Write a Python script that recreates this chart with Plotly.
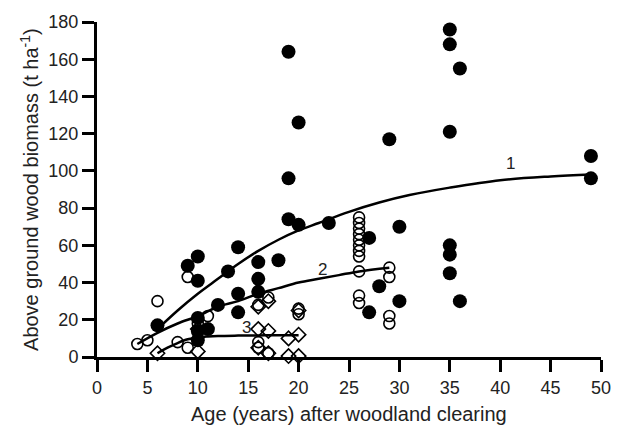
import plotly.graph_objects as go

# ---- data ----
filled_x = [6, 9, 10, 10, 10, 10, 10, 11, 12, 13, 14, 14, 14, 16, 16, 16, 18, 19, 19, 19, 20, 20,
            23, 27, 27, 28, 29, 30, 30, 35, 35, 35, 35, 35, 35, 36, 36, 49, 49]
filled_y = [17, 49, 54, 41, 21, 14, 9, 15, 28, 46, 59, 34, 24, 51, 42, 35, 52, 164, 96, 74, 126, 71,
            72, 64, 24, 38, 117, 70, 30, 176, 168, 121, 60, 55, 45, 155, 30, 108, 96]

open_x = [4, 5, 6, 8, 9, 9, 10, 11, 16, 16, 16, 17, 17, 20, 20,
          26, 26, 26, 26, 26, 26, 26, 26, 26, 26, 26, 29, 29, 29, 29]
open_y = [7, 9, 30, 8, 5, 43, 18, 22, 28, 5, 8, 32, 2, 23, 26,
          75, 72, 69, 66, 63, 60, 57, 54, 46, 33, 29, 48, 43, 22, 18]

diam_x = [6, 10, 10, 16, 16, 16, 17, 17, 17, 19, 19, 20, 20, 20]
diam_y = [2, 3, 15, 15, 27, 5, 14, 30, 2, 10, 0.5, 12, 0.5, 25]

curve1_x = [6, 8, 10, 12, 14, 16, 18, 20, 22, 25, 28, 31, 35, 40, 45, 49]
curve1_y = [15, 25, 34, 42, 50, 57, 63, 68, 72, 78, 83, 87, 91, 95, 97, 98]

curve2_x = [4, 6, 8, 10, 12, 14, 16, 18, 20, 22, 24, 26, 29]
curve2_y = [7, 13, 18, 22, 27, 30, 34, 37, 40, 42, 44, 46, 48]

curve3_x = [6, 7, 8, 9, 10, 11, 12, 14, 16, 18, 20]
curve3_y = [2, 5, 7.5, 9.5, 10.5, 11, 11.3, 11.5, 11.6, 11.7, 11.7]

curve_labels = ["1", "2", "3"]
label_x = [41, 22.4, 14.8]
label_y = [104, 47, 16]

x_ticks = [0, 5, 10, 15, 20, 25, 30, 35, 40, 45, 50]
y_ticks = [0, 20, 40, 60, 80, 100, 120, 140, 160, 180]

FONT = "Liberation Sans, Arial, sans-serif"
TXT = "#222"

fig = go.Figure()
for cx, cy in [(curve1_x, curve1_y), (curve2_x, curve2_y), (curve3_x, curve3_y)]:
    fig.add_trace(go.Scatter(x=cx, y=cy, mode="lines", line=dict(color="black", width=2.5),
                             line_shape="spline", hoverinfo="skip", cliponaxis=False))

fig.add_trace(go.Scatter(x=diam_x, y=diam_y, mode="markers", cliponaxis=False,
                         marker=dict(symbol="diamond-open", size=11, color="black",
                                     line=dict(width=1.6, color="black"))))
fig.add_trace(go.Scatter(x=open_x, y=open_y, mode="markers", cliponaxis=False,
                         marker=dict(symbol="circle-open", size=11, color="black",
                                     line=dict(width=1.6, color="black"))))
fig.add_trace(go.Scatter(x=filled_x, y=filled_y, mode="markers", cliponaxis=False,
                         marker=dict(symbol="circle", size=14, color="black",
                                     line=dict(width=0))))

annotations = []
for t, lx, ly in zip(curve_labels, label_x, label_y):
    annotations.append(dict(x=lx, y=ly, text=t, showarrow=False,
                            font=dict(family=FONT, size=17, color=TXT)))
annotations.append(dict(xref="paper", yref="paper", x=0.5, y=-0.169,
                        text="Age (years) after woodland clearing", showarrow=False,
                        xanchor="center", yanchor="middle",
                        font=dict(family=FONT, size=20, color=TXT)))
annotations.append(dict(xref="paper", yref="paper", x=-0.134, y=0.5, textangle=-90,
                        text="Above ground wood biomass (t ha<sup>-1</sup>)", showarrow=False,
                        xanchor="center", yanchor="middle",
                        font=dict(family=FONT, size=20, color=TXT)))

fig.update_layout(
    width=623, height=430,
    margin=dict(l=97, r=12, t=14, b=73),
    plot_bgcolor="white", paper_bgcolor="white",
    showlegend=False,
    annotations=annotations,
    xaxis=dict(range=[0, 50], tickvals=x_ticks, ticks="outside", ticklen=12, tickwidth=3,
               tickcolor="black", showline=True, linewidth=3, linecolor="black",
               showgrid=False, zeroline=False,
               tickfont=dict(family=FONT, size=18, color=TXT)),
    yaxis=dict(range=[0, 180], tickvals=y_ticks, ticks="outside", ticklen=12, tickwidth=3,
               tickcolor="black", showline=True, linewidth=3, linecolor="black",
               showgrid=False, zeroline=False,
               tickfont=dict(family=FONT, size=18, color=TXT)),
)

fig.write_html("out.html")
